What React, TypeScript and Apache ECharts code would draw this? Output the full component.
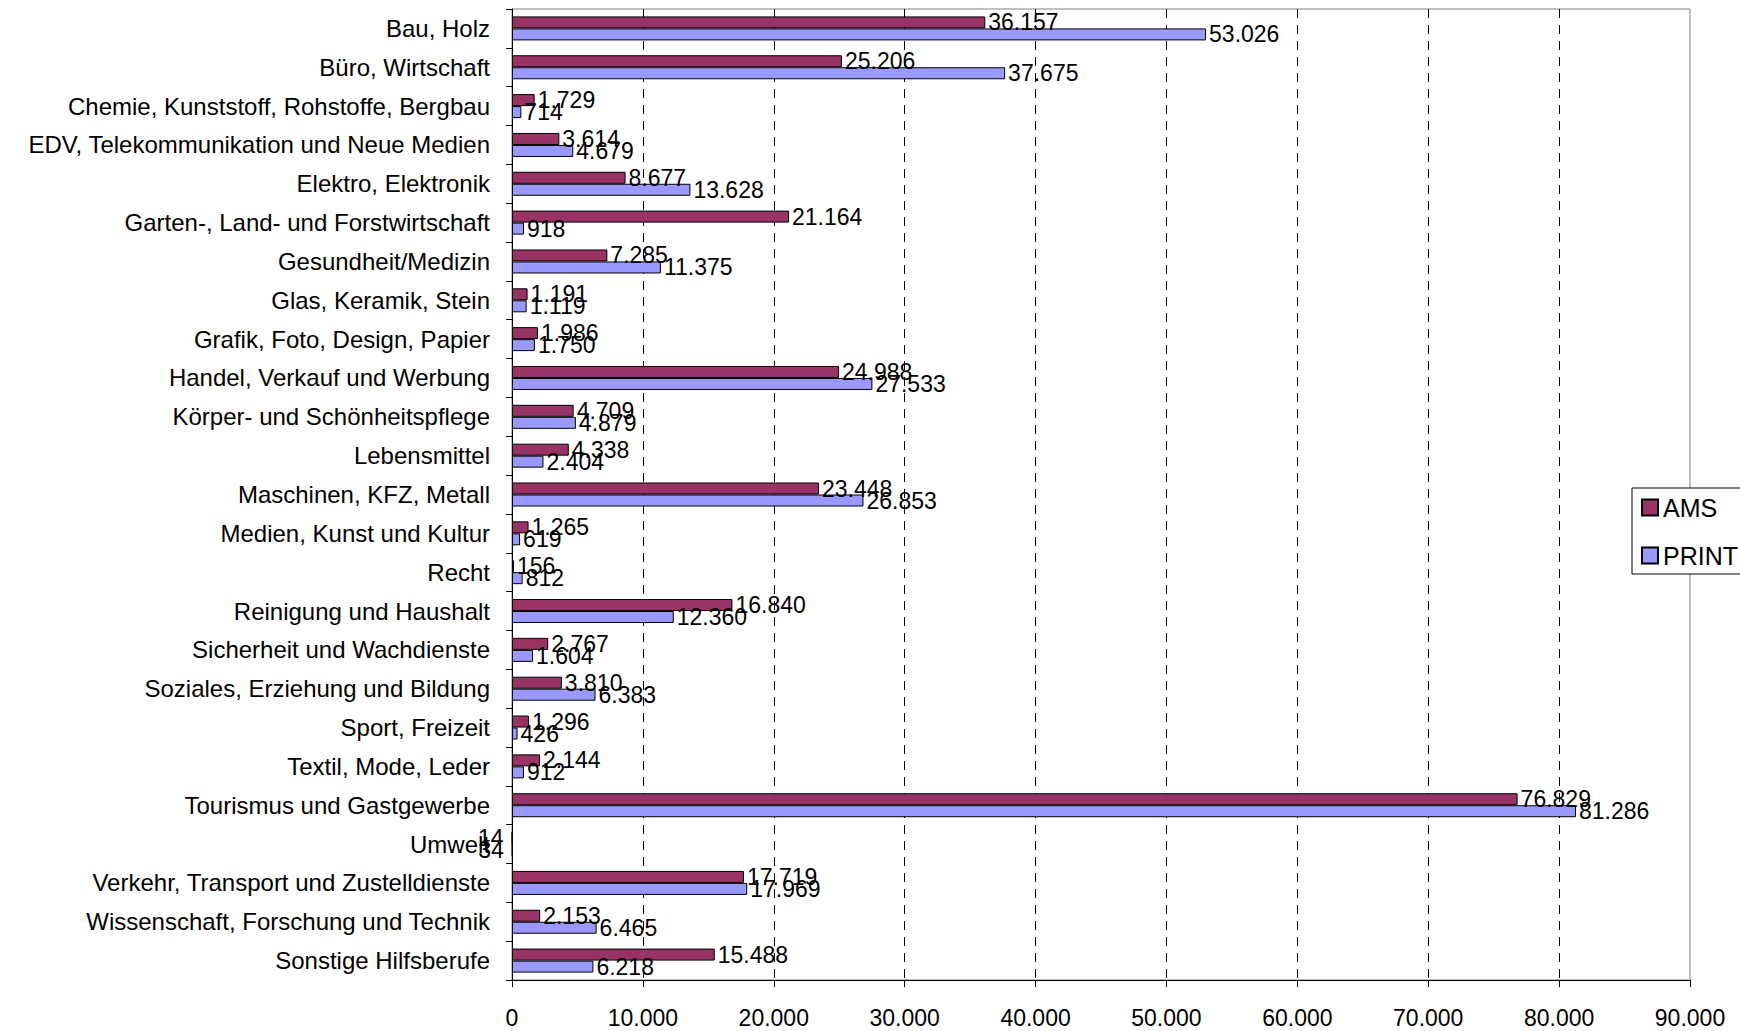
import React, { useEffect, useRef } from "react";
import * as echarts from "echarts";

const categories = [
  "Bau, Holz",
  "Büro, Wirtschaft",
  "Chemie, Kunststoff, Rohstoffe, Bergbau",
  "EDV, Telekommunikation und Neue Medien",
  "Elektro, Elektronik",
  "Garten-, Land- und Forstwirtschaft",
  "Gesundheit/Medizin",
  "Glas, Keramik, Stein",
  "Grafik, Foto, Design, Papier",
  "Handel, Verkauf und Werbung",
  "Körper- und Schönheitspflege",
  "Lebensmittel",
  "Maschinen, KFZ, Metall",
  "Medien, Kunst und Kultur",
  "Recht",
  "Reinigung und Haushalt",
  "Sicherheit und Wachdienste",
  "Soziales, Erziehung und Bildung",
  "Sport, Freizeit",
  "Textil, Mode, Leder",
  "Tourismus und Gastgewerbe",
  "Umwelt",
  "Verkehr, Transport und Zustelldienste",
  "Wissenschaft, Forschung und Technik",
  "Sonstige Hilfsberufe",
];

const amsValues = [
  36157, 25206, 1729, 3614, 8677, 21164, 7285, 1191, 1986, 24988, 4709, 4338,
  23448, 1265, 156, 16840, 2767, 3810, 1296, 2144, 76829, 14, 17719, 2153, 15488,
];

const printValues = [
  53026, 37675, 714, 4679, 13628, 918, 11375, 1119, 1750, 27533, 4879, 2404,
  26853, 619, 812, 12360, 1604, 6383, 426, 912, 81286, 34, 17969, 6465, 6218,
];

const seriesNames = ["AMS", "PRINT"];
const seriesColors = ["#993366", "#9999FF"];

const xMin = 0;
const xMax = 90000;
const xInterval = 10000;

const FONT = "'Liberation Sans', Arial, sans-serif";

const fmt = (v: number) => String(v).replace(/\B(?=(\d{3})+(?!\d))/g, ".");

const toData = (vals: number[]) =>
  vals.map((v) =>
    v < 100
      ? { value: v, label: { position: "left", distance: 8 } }
      : { value: v }
  );

export default function App() {
  const ref = useRef<HTMLDivElement>(null);
  useEffect(() => {
    document.body.style.margin = "0";
    const chart = echarts.init(ref.current!, null, { renderer: "svg" });
    const makeSeries = (idx: number, vals: number[]) => ({
      name: seriesNames[idx],
      type: "bar",
      data: toData(vals),
      barWidth: 12,
      barGap: "0%",
      itemStyle: {
        color: seriesColors[idx],
        borderColor: "#000",
        borderWidth: 1,
      },
      label: {
        show: true,
        position: "right",
        distance: 3,
        color: "#000",
        fontSize: 23,
        fontFamily: FONT,
        formatter: (p: any) => fmt(p.value),
      },
    });
    chart.setOption({
      animation: false,
      backgroundColor: "#fff",
      textStyle: { fontFamily: FONT },
      grid: {
        left: 512,
        right: 50,
        top: 9,
        bottom: 51,
        show: true,
        borderColor: "#808080",
        borderWidth: 1,
      },
      legend: {
        orient: "vertical",
        left: 1632,
        top: 488,
        padding: [7, 12, 6, 9],
        itemGap: 23,
        itemWidth: 16,
        itemHeight: 16,
        icon: "rect",
        backgroundColor: "#fff",
        borderColor: "#000",
        borderWidth: 1,
        borderRadius: 0,
        textStyle: { fontSize: 25, color: "#000", fontFamily: FONT },
        data: seriesNames,
      },
      xAxis: {
        type: "value",
        min: xMin,
        max: xMax,
        interval: xInterval,
        axisLine: { show: true, lineStyle: { color: "#000", width: 1 } },
        axisTick: { show: true, length: 7, lineStyle: { color: "#000" } },
        axisLabel: {
          fontSize: 23,
          color: "#000",
          fontFamily: FONT,
          margin: 26,
          formatter: (v: number) => fmt(v),
        },
        splitLine: {
          show: true,
          showMinLine: false,
          showMaxLine: false,
          lineStyle: { color: "#000", width: 1, type: [9, 7] },
        },
      },
      yAxis: {
        type: "category",
        data: categories,
        inverse: true,
        axisLine: { show: true, lineStyle: { color: "#000", width: 1 } },
        axisTick: { show: true, length: 6, lineStyle: { color: "#000" } },
        axisLabel: {
          fontSize: 24,
          color: "#000",
          fontFamily: FONT,
          margin: 22,
          interval: 0,
        },
        splitLine: { show: false },
      },
      series: [makeSeries(0, amsValues), makeSeries(1, printValues)],
    });
    return () => chart.dispose();
  }, []);
  return (
    <div
      ref={ref}
      style={{ width: 1740, height: 1031, position: "absolute", left: 0, top: 0 }}
    />
  );
}
